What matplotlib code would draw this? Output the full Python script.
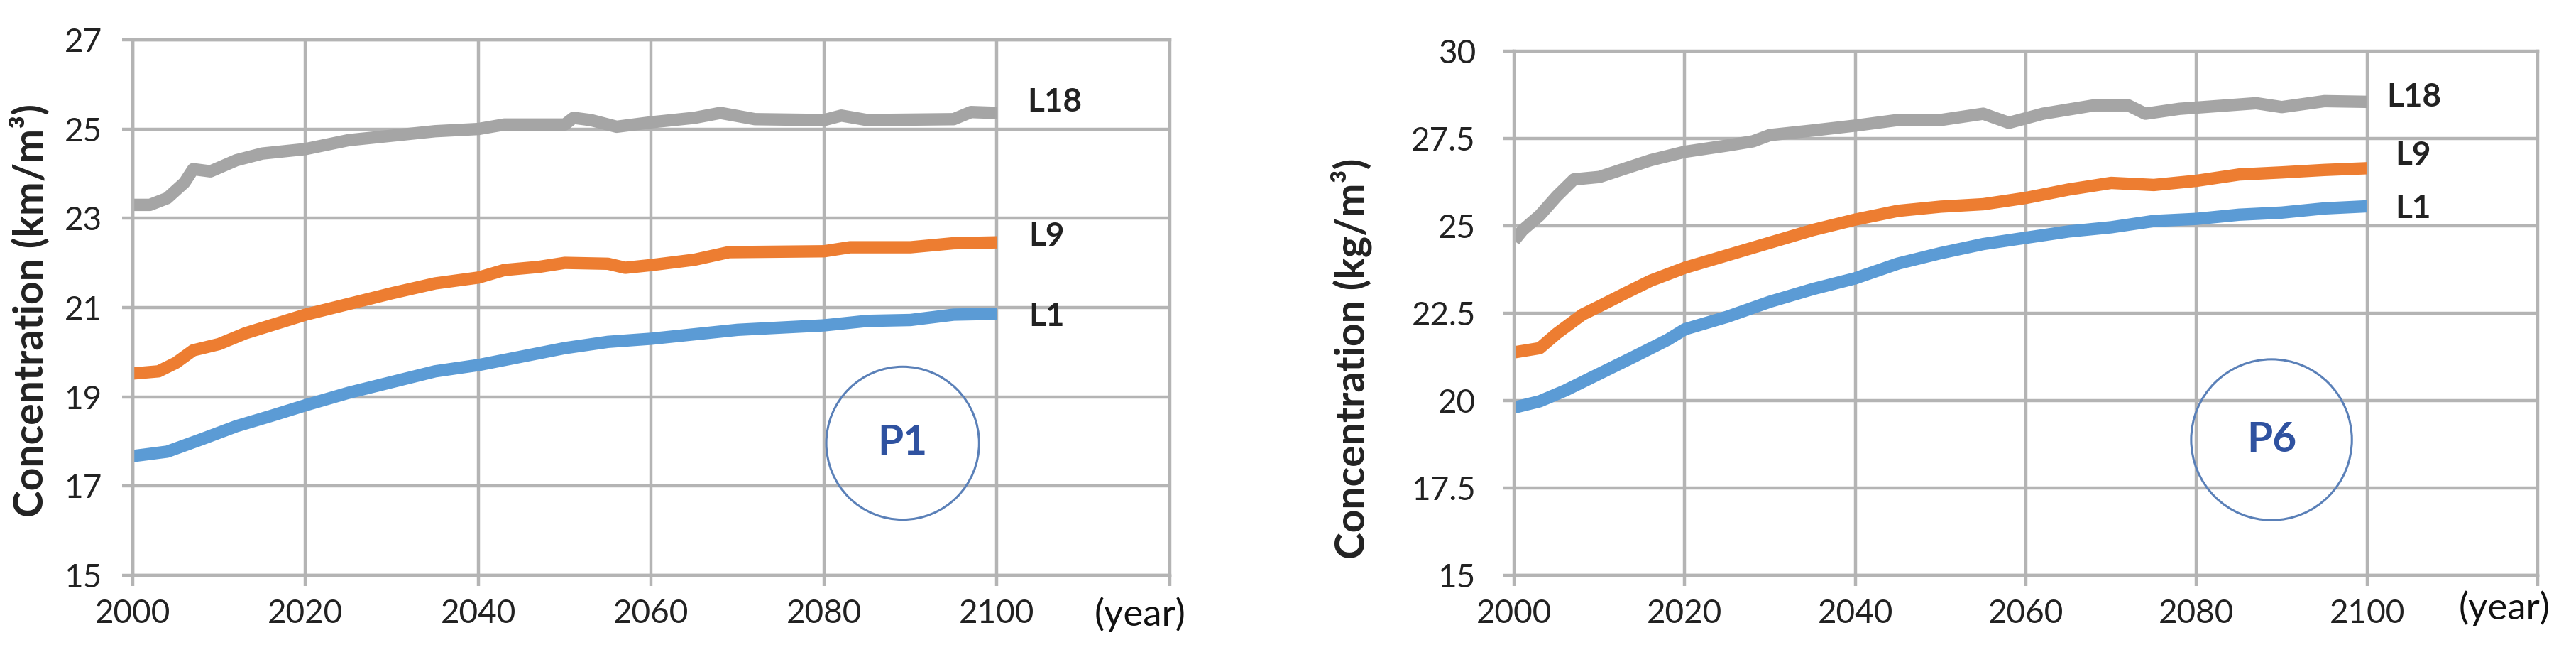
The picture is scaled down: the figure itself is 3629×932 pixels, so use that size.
import matplotlib
matplotlib.use('Agg')
import matplotlib.pyplot as plt

plt.rcParams['font.family'] = ['Lato', 'DejaVu Sans']

# P1 panel (left)
p1_l18_years = [2000, 2002, 2004, 2006, 2007, 2009, 2012, 2015, 2020, 2025, 2030, 2035, 2040, 2043,
                2050, 2051, 2053, 2056, 2060, 2065, 2068, 2072, 2080, 2082, 2085, 2095, 2097, 2100]
p1_l18 = [23.3, 23.3, 23.45, 23.8, 24.1, 24.05, 24.3, 24.45, 24.55, 24.75, 24.85, 24.95, 25.0, 25.1,
          25.1, 25.25, 25.2, 25.05, 25.15, 25.25, 25.36, 25.22, 25.2, 25.3, 25.2, 25.22, 25.38, 25.36]

p1_l9_years = [2000, 2003, 2005, 2007, 2010, 2013, 2016, 2020, 2025, 2030, 2035, 2040, 2043, 2047,
               2050, 2055, 2057, 2060, 2065, 2069, 2080, 2083, 2090, 2095, 2100]
p1_l9 = [19.52, 19.57, 19.76, 20.04, 20.18, 20.42, 20.6, 20.84, 21.08, 21.32, 21.54, 21.67, 21.84, 21.91,
         22.0, 21.98, 21.89, 21.95, 22.07, 22.24, 22.26, 22.35, 22.35, 22.44, 22.46]

p1_l1_years = [2000, 2004, 2008, 2012, 2016, 2020, 2025, 2030, 2035, 2040, 2045, 2050, 2055, 2060,
               2070, 2080, 2085, 2090, 2095, 2100]
p1_l1 = [17.67, 17.77, 18.05, 18.34, 18.57, 18.81, 19.09, 19.33, 19.57, 19.71, 19.9, 20.09, 20.23, 20.3,
         20.5, 20.6, 20.7, 20.72, 20.84, 20.86]

# P6 panel (right)
p6_l18_years = [2000, 2001, 2003, 2005, 2007, 2010, 2013, 2016, 2020, 2025, 2028, 2030, 2035, 2040, 2045,
                2050, 2055, 2058, 2062, 2068, 2072, 2074, 2078, 2087, 2090, 2095, 2100]
p6_l18 = [24.58, 24.88, 25.3, 25.85, 26.33, 26.4, 26.64, 26.88, 27.12, 27.3, 27.42, 27.6, 27.73, 27.87, 28.03,
          28.03, 28.21, 27.95, 28.21, 28.45, 28.45, 28.21, 28.35, 28.51, 28.4, 28.57, 28.55]

p6_l9_years = [2000, 2003, 2005, 2008, 2010, 2013, 2016, 2020, 2025, 2030, 2035, 2040, 2045, 2050,
               2055, 2060, 2065, 2070, 2075, 2080, 2085, 2090, 2095, 2100]
p6_l9 = [21.38, 21.5, 21.92, 22.46, 22.7, 23.07, 23.43, 23.8, 24.16, 24.52, 24.88, 25.18, 25.43, 25.55,
         25.62, 25.8, 26.04, 26.23, 26.17, 26.29, 26.47, 26.53, 26.6, 26.65]

p6_l1_years = [2000, 2003, 2006, 2010, 2014, 2018, 2020, 2025, 2030, 2035, 2040, 2045, 2050, 2055,
               2060, 2065, 2070, 2075, 2080, 2085, 2090, 2095, 2100]
p6_l1 = [19.8, 19.98, 20.29, 20.77, 21.25, 21.74, 22.04, 22.4, 22.83, 23.19, 23.5, 23.92, 24.22, 24.48,
         24.66, 24.84, 24.96, 25.14, 25.2, 25.32, 25.38, 25.5, 25.56]

x_ticks = [2000, 2020, 2040, 2060, 2080, 2100, 2120]
x_labels = ['2000', '2020', '2040', '2060', '2080', '2100', '']
p1_yticks = [15, 17, 19, 21, 23, 25, 27]
p6_yticks = [15, 17.5, 20, 22.5, 25, 27.5, 30]
p6_ylabels = ['15', '17.5', '20', '22.5', '25', '27.5', '30']

c_gray = '#a5a5a5'
c_orange = '#ed7d31'
c_blue = '#5b9bd5'
c_grid = '#b4b4b4'

fig = plt.figure(figsize=(36.29, 9.32), dpi=100)
ax1 = fig.add_axes([0.0515, 0.131, 0.4026, 0.809])
ax2 = fig.add_axes([0.5878, 0.131, 0.3973, 0.7917])


def style_axes(ax, yticks, ylabels, ypad):
    ax.set_xlim(2000, 2120)
    ax.set_ylim(yticks[0], yticks[-1])
    ax.set_xticks(x_ticks)
    ax.set_xticklabels(x_labels)
    ax.set_yticks(yticks)
    ax.set_yticklabels(ylabels)
    ax.grid(True, color=c_grid, linewidth=3.2)
    ax.set_axisbelow(True)
    for s in ax.spines.values():
        s.set_color(c_grid)
        s.set_linewidth(3.2)
    ax.tick_params(axis='both', direction='out', length=11, width=3.2, color=c_grid,
                   labelsize=33, labelcolor='#222222')
    ax.tick_params(axis='x', pad=13)
    ax.tick_params(axis='y', pad=ypad)


lw = 12.5
lab = dict(fontsize=33, fontweight='bold', color='#222222', va='center')
ax1.plot(p1_l18_years, p1_l18, color=c_gray, lw=lw, solid_capstyle='butt')
ax1.plot(p1_l9_years, p1_l9, color=c_orange, lw=lw, solid_capstyle='butt')
ax1.plot(p1_l1_years, p1_l1, color=c_blue, lw=lw, solid_capstyle='butt')
style_axes(ax1, p1_yticks, [str(v) for v in p1_yticks], 20)
ax1.text(2103.5, 25.6, 'L18', **lab)
ax1.text(2103.7, 22.59, 'L9', **lab)
ax1.text(2103.7, 20.79, 'L1', **lab)
ax1.scatter([2089.1], [17.96], s=155 ** 2, facecolors='none', edgecolors='#5a80b8', linewidths=2.2, zorder=4)
ax1.text(2089.1, 17.96, 'P1', fontsize=42, fontweight='bold', color='#2f52a0', ha='center', va='center')

ax2.plot(p6_l18_years, p6_l18, color=c_gray, lw=lw, solid_capstyle='butt')
ax2.plot(p6_l9_years, p6_l9, color=c_orange, lw=lw, solid_capstyle='butt')
ax2.plot(p6_l1_years, p6_l1, color=c_blue, lw=lw, solid_capstyle='butt')
style_axes(ax2, p6_yticks, p6_ylabels, 28)
ax2.text(2102.3, 28.68, 'L18', **lab)
ax2.text(2103.3, 27.01, 'L9', **lab)
ax2.text(2103.3, 25.49, 'L1', **lab)
ax2.scatter([2088.8], [18.88], s=163 ** 2, facecolors='none', edgecolors='#5a80b8', linewidths=2.2, zorder=4)
ax2.text(2088.8, 18.88, 'P6', fontsize=42, fontweight='bold', color='#2f52a0', ha='center', va='center')

fig.text(0.0116, 0.531, 'Concentration (km/m³)', rotation=90, fontsize=41, fontweight='bold',
         color='#222222', ha='center', va='center')
fig.text(0.5247, 0.458, 'Concentration (kg/m³)', rotation=90, fontsize=41, fontweight='bold',
         color='#222222', ha='center', va='center')
fig.text(0.4249, 0.072, '(year)', fontsize=38, color='#111111', ha='left', va='center')
fig.text(0.9545, 0.0815, '(year)', fontsize=38, color='#111111', ha='left', va='center')

fig.savefig('out.png', dpi=100, facecolor='white')
